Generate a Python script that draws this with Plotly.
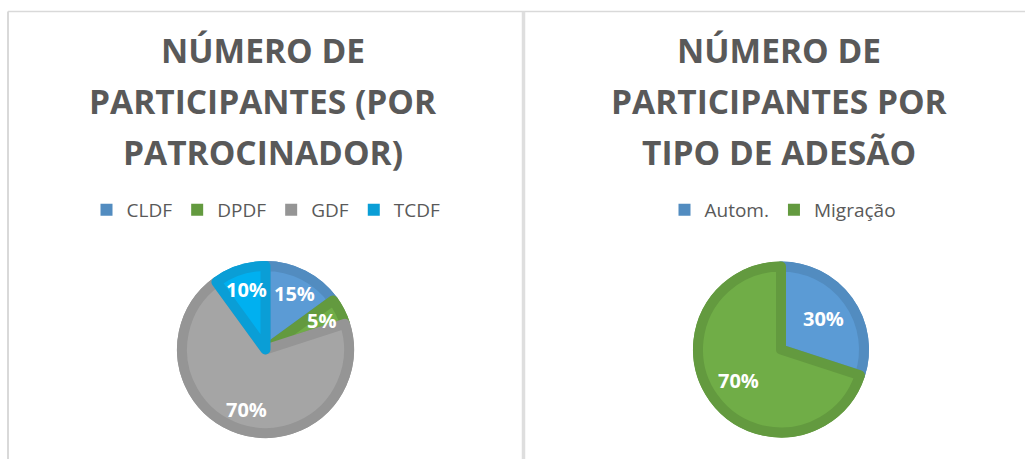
import math
import plotly.graph_objects as go

W, H = 1026, 459

# ---- data ----
sponsor_labels = ["CLDF", "DPDF", "GDF", "TCDF"]
sponsor_values = [15, 5, 70, 10]
adhesion_labels = ["Autom.", "Migração"]
adhesion_values = [30, 70]

title_left = ["NÚMERO DE", "PARTICIPANTES (POR", "PATROCINADOR)"]
title_right = ["NÚMERO DE", "PARTICIPANTES POR", "TIPO DE ADESÃO"]

# ---- styles ----
sponsor_light = ["#5B9BD5", "#70AD47", "#A5A5A5", "#00B0F0"]
sponsor_dark = ["#528CC0", "#639A3F", "#959595", "#0A9ED6"]
adhesion_light = ["#5B9BD5", "#70AD47"]
adhesion_dark = ["#528CC0", "#639A3F"]

TXT = "#595959"
FONT = "Open Sans"


def px_x(v):
    return v / W


def px_y(v):
    return 1 - v / H


def dom(cx, cy, r):
    return dict(x=[px_x(cx - r), px_x(cx + r)], y=[px_y(cy + r), px_y(cy - r)])


RING = 10

fig = go.Figure()
annotations = []


def add_pie(labels, values, light, dark, cx, cy, r, legend, label_frac):
    # outer (dark) pie - carries the legend
    fig.add_trace(go.Pie(
        labels=labels, values=values, sort=False, direction="clockwise",
        rotation=0, domain=dom(cx, cy, r),
        marker=dict(colors=dark, line=dict(width=0)),
        textinfo="none", hoverinfo="label+percent",
        legend=legend, showlegend=True,
    ))
    # inner (light) pie with dark ring (bevel look)
    fig.add_trace(go.Pie(
        labels=labels, values=values, sort=False, direction="clockwise",
        rotation=0, domain=dom(cx, cy, r - RING / 2),
        marker=dict(colors=light, line=dict(color=dark, width=RING)),
        textinfo="none", hoverinfo="label+percent",
        legend=legend, showlegend=False,
    ))
    # data labels (percent) placed at the mid-angle of each slice
    total = float(sum(values))
    cum = 0.0
    for v in values:
        mid = (cum + v / 2.0) / total * 2 * math.pi
        cum += v
        lx = cx + label_frac * r * math.sin(mid)
        ly = cy - label_frac * r * math.cos(mid)
        annotations.append(dict(
            text=f"{round(v / total * 100)}%", x=px_x(lx), y=px_y(ly),
            xref="paper", yref="paper", xanchor="center", yanchor="middle",
            showarrow=False,
            font=dict(family=FONT, size=20, color="white", weight="bold"),
        ))


add_pie(sponsor_labels, sponsor_values, sponsor_light, sponsor_dark,
        265.5, 349.5, 88.5, "legend", 0.71)
add_pie(adhesion_labels, adhesion_values, adhesion_light, adhesion_dark,
        781, 349.5, 88, "legend2", 0.59)

for lines, cx in ((title_left, 263), (title_right, 779)):
    for i, t in enumerate(lines):
        annotations.append(dict(
            text=t, x=px_x(cx), y=px_y(50 + 50.8 * i),
            xref="paper", yref="paper", xanchor="center", yanchor="middle",
            showarrow=False,
            font=dict(family=FONT, size=33.5, color=TXT, weight="bold"),
        ))

border = "#D9D9D9"
shapes = [
    dict(type="line", xref="paper", yref="paper",
         x0=px_x(8), x1=px_x(1025), y0=px_y(11.5), y1=px_y(11.5),
         line=dict(color=border, width=1.5)),
    dict(type="line", xref="paper", yref="paper",
         x0=px_x(8), x1=px_x(8), y0=px_y(11.5), y1=0,
         line=dict(color=border, width=2)),
    dict(type="line", xref="paper", yref="paper",
         x0=px_x(523.5), x1=px_x(523.5), y0=px_y(11.5), y1=0,
         line=dict(color="#DEDEDE", width=3.5)),
]

legend_common = dict(
    orientation="h", xanchor="center", yanchor="middle",
    font=dict(family=FONT, size=19, color=TXT),
    bgcolor="rgba(0,0,0,0)", traceorder="normal", itemclick=False,
)

fig.update_layout(
    width=W, height=H, autosize=False,
    margin=dict(l=0, r=0, t=0, b=0),
    paper_bgcolor="white", plot_bgcolor="white",
    annotations=annotations, shapes=shapes,
    legend=dict(x=px_x(266), y=px_y(210), **legend_common),
    legend2=dict(x=px_x(783), y=px_y(210), **legend_common),
    font=dict(family=FONT, color=TXT),
)

fig.write_html("out.html", config={"displayModeBar": False},
               post_script="document.body.style.margin='0';")
